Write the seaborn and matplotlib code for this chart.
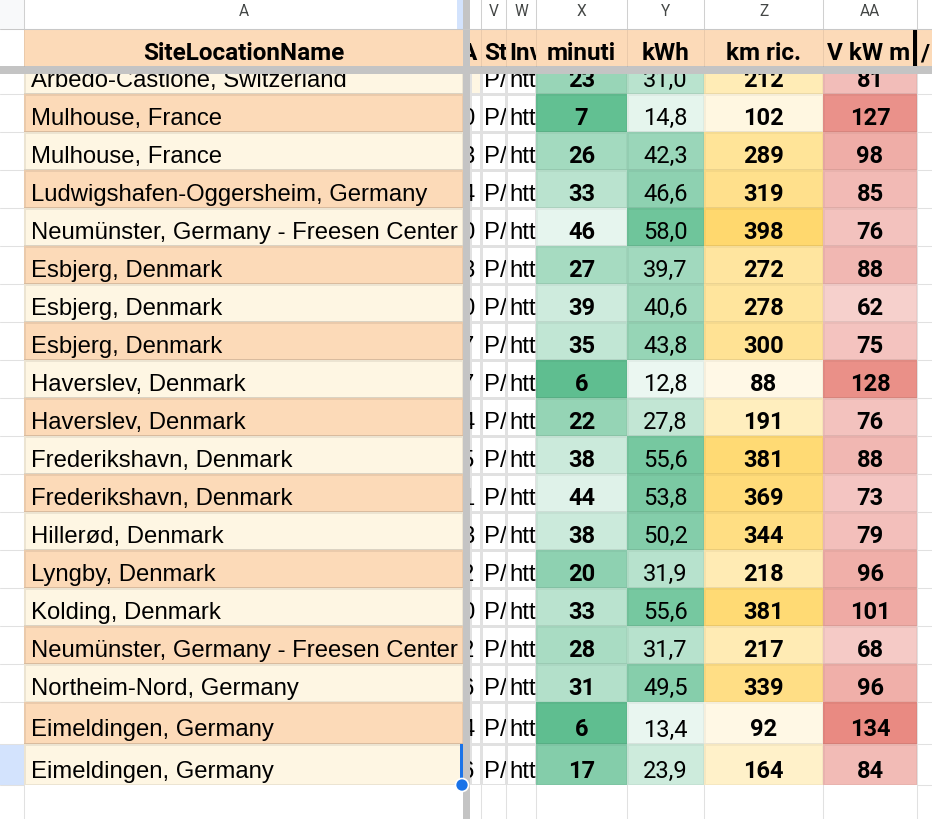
"""
Spreadsheet view of charging sessions, drawn as seaborn heatmap columns.
"""

import matplotlib
matplotlib.use("Agg")
import matplotlib.pyplot as plt
import seaborn as sns
import numpy as np
from matplotlib.colors import LinearSegmentedColormap, ListedColormap
from matplotlib.patches import Rectangle, Circle


# Data
site_names = [
    "Arbedo-Castione, Switzerland",
    "Mulhouse, France",
    "Mulhouse, France",
    "Ludwigshafen-Oggersheim, Germany",
    "Neumünster, Germany - Freesen Center",
    "Esbjerg, Denmark",
    "Esbjerg, Denmark",
    "Esbjerg, Denmark",
    "Haverslev, Denmark",
    "Haverslev, Denmark",
    "Frederikshavn, Denmark",
    "Frederikshavn, Denmark",
    "Hillerød, Denmark",
    "Lyngby, Denmark",
    "Kolding, Denmark",
    "Neumünster, Germany - Freesen Center",
    "Northeim-Nord, Germany",
    "Eimeldingen, Germany",
    "Eimeldingen, Germany",
]
minuti = [23, 7, 26, 33, 46, 27, 39, 35, 6, 22, 38, 44, 38, 20, 33, 28, 31, 6, 17]
kwh = [31.0, 14.8, 42.3, 46.6, 58.0, 39.7, 40.6, 43.8, 12.8, 27.8,
       55.6, 53.8, 50.2, 31.9, 55.6, 31.7, 49.5, 13.4, 23.9]
km_ric = [212, 102, 289, 319, 398, 272, 278, 300, 88, 191,
          381, 369, 344, 218, 381, 217, 339, 92, 164]
v_kw = [81, 127, 98, 85, 76, 88, 62, 75, 128, 76, 88, 73, 79, 96, 101, 68, 96, 134, 84]
# clipped leftovers of the hidden columns
hidden_digits = ["", "0", "3", "4", "0", "3", "0", "7", "7", "4",
                 "5", "1", "3", "2", "0", "2", "6", "4", "6"]
stato = ["P/"] * len(site_names)
invoice = ["htt"] * len(site_names)

col_letters = ["A", "V", "W", "X", "Y", "Z", "AA"]
header_labels = ["SiteLocationName", "A", "St", "Inv", "minuti", "kWh", "km ric.", "V kW m"]


# Layout (pixels)
W, H = 932, 820
GUTTER = 24
COLS = {
    "A": (24, 463), "A2": (470, 481), "V": (481, 506), "W": (506, 536),
    "X": (536, 627), "Y": (627, 704), "Z": (704, 823), "AA": (823, 917),
}
BLOCKS = [(0, 17, 57, 703), (17, 19, 703, 786)]
HEADER = (30, 67)
BAR_H = (67, 75)
BAR_V = (463, 470)

ORANGE = "#FCDAB8"
CREAM = "#FEF6E3"
GRID = "#E1E1E1"
BAR = "#C4C4C4"

sns.set_theme(style="white")
plt.rcParams["font.family"] = ["Liberation Sans", "DejaVu Sans"]
NAME_FONT = ["Liberation Sans", "DejaVu Sans"]
NUM_FONT = ["Roboto", "DejaVu Sans"]


def px_axes(fig, x0, y0, x1, y1, z=1):
    return fig.add_axes([x0 / W, 1 - y1 / H, (x1 - x0) / W, (y1 - y0) / H], zorder=z)


def draw_column(fig, key, values, cmap, vmin, vmax, labels, linecolor,
                ha="center", pad=0, size=17, weight="normal", family=NUM_FONT):
    """One spreadsheet column as a single-column heatmap per row block."""
    x0, x1 = COLS[key]
    for i0, i1, y0, y1 in BLOCKS:
        ax = px_axes(fig, x0, y0, x1, y1, z=2)
        data = np.asarray(values[i0:i1], dtype=float).reshape(-1, 1)
        sns.heatmap(data, ax=ax, cmap=cmap, vmin=vmin, vmax=vmax, cbar=False,
                    linewidths=0.75, linecolor=linecolor,
                    xticklabels=False, yticklabels=False)
        row_px = (y1 - y0) / (i1 - i0)
        frac = (row_px - 8) / row_px  # bottom aligned text
        tx = 0.5 if ha == "center" else pad / (x1 - x0)
        for j, lab in enumerate(labels[i0:i1]):
            ax.text(tx, j + frac, lab, ha=ha, va="baseline", fontsize=size,
                    fontweight=weight, family=family, color="black", clip_on=True)
        ax.set_axis_off()


def clipped_text(ax, x, y, s, box, **kw):
    t = ax.text(x, y, s, clip_on=True, **kw)
    bx0, by0, bx1, by1 = box
    t.set_clip_path(Rectangle((bx0, by0), bx1 - bx0, by1 - by0, transform=ax.transData))
    return t


fig = plt.figure(figsize=(W / 100, H / 100), dpi=100)

# Background grid
bg = fig.add_axes([0, 0, 1, 1], zorder=0)
bg.set_xlim(0, W)
bg.set_ylim(H, 0)
bg.set_axis_off()
bg.add_patch(Rectangle((0, 745), GUTTER, 41, color="#D3E3FD", lw=0))
bounds = [57 + 38 * k for k in range(18)] + [745, 786]
for yb in bounds:
    bg.plot([0, GUTTER], [yb, yb], color=GRID, lw=0.75)
    bg.plot([917, W], [yb, yb], color=GRID, lw=0.75)
for xb in [GUTTER, 481, 506, 536, 627, 704, 823, 917]:
    bg.plot([xb, xb], [0, H], color=GRID, lw=0.75)

# Columns
band = [k % 2 for k in range(len(site_names))]
draw_column(fig, "A", band, ListedColormap([CREAM, ORANGE]), 0, 1, site_names,
            (0, 0, 0, 0.07), ha="left", pad=7, size=17.2, family=NAME_FONT)
draw_column(fig, "A2", [1] + [0] * (len(site_names) - 1), ListedColormap(["white", CREAM]),
            0, 1, hidden_digits, GRID, ha="right", pad=4.5, size=17.2, family=NAME_FONT)
draw_column(fig, "V", [0] * len(site_names), ListedColormap(["white"]), 0, 1, stato,
            GRID, ha="left", pad=3, size=17.2, family=NAME_FONT)
draw_column(fig, "W", [0] * len(site_names), ListedColormap(["white"]), 0, 1, invoice,
            GRID, ha="left", pad=3, size=17.2, family=NAME_FONT)

green = LinearSegmentedColormap.from_list("green", ["#FFFFFF", "#57BB8A"])
yellow = LinearSegmentedColormap.from_list("yellow", ["#FFFFFF", "#FFD666"])
red = LinearSegmentedColormap.from_list("red", ["#FFFFFF", "#E67C73"])

draw_column(fig, "X", minuti, green.reversed(), 3.5, 53.5, [str(v) for v in minuti],
            (0, 0, 0, 0.04), weight="bold")
draw_column(fig, "Y", kwh, green, 5.4, 67, [f"{v:.1f}".replace(".", ",") for v in kwh],
            (0, 0, 0, 0.04))
draw_column(fig, "Z", km_ric, yellow, 25, 418, [str(v) for v in km_ric],
            (0, 0, 0, 0.04), weight="bold")
draw_column(fig, "AA", v_kw, red, 13, 149, [str(v) for v in v_kw],
            (0, 0, 0, 0.04), weight="bold")

# Frozen header, column letters and freeze bars
top = fig.add_axes([0, 0, 1, 1], zorder=10)
top.set_xlim(0, W)
top.set_ylim(H, 0)
top.set_axis_off()
top.patch.set_visible(False)

top.add_patch(Rectangle((0, 0), W, HEADER[0], color="white", lw=0))
top.add_patch(Rectangle((0, 0), GUTTER, HEADER[0], color="#F8F9FA", lw=0))
top.add_patch(Rectangle((457, 0), 6, HEADER[0], color="#D3E3FD", lw=0))
top.add_patch(Rectangle((0, HEADER[0]), GUTTER, HEADER[1] - HEADER[0], color="white", lw=0))
top.add_patch(Rectangle((GUTTER, HEADER[0]), W - GUTTER, HEADER[1] - HEADER[0], color=ORANGE, lw=0))
for xb in [GUTTER, 481, 506, 536, 627, 704, 823, 917]:
    top.plot([xb, xb], [0, HEADER[0]], color="#D0D0D0", lw=0.75)
    top.plot([xb, xb], [HEADER[0], HEADER[1]], color=(0, 0, 0, 0.07), lw=0.75)
top.plot([0, W], [HEADER[0], HEADER[0]], color="#C8C8C8", lw=0.75)

letter_cols = ["A", "V", "W", "X", "Y", "Z", "AA"]
for letter, key in zip(col_letters, letter_cols):
    x0, x1 = COLS[key]
    top.text((x0 + x1) / 2, 15.5, letter, ha="center", va="baseline",
             fontsize=11.2, color="#444746", family=NUM_FONT)

header_keys = ["A", "A2", "V", "W", "X", "Y", "Z", "AA"]
base = HEADER[1] - 7
for lab, key in zip(header_labels, header_keys):
    x0, x1 = COLS[key]
    box = (x0, HEADER[0], x1, HEADER[1])
    kw = dict(va="baseline", fontsize=17.5, fontweight="bold", family=NUM_FONT, color="black")
    if key == "A2":
        clipped_text(top, x1 - 4, base, lab, box, ha="right", **kw)
    elif key in ("V", "W"):
        clipped_text(top, x0 + 3, base, lab, box, ha="left", **kw)
    elif key == "AA":
        clipped_text(top, x0 + 4, base, lab, (x0, HEADER[0], 913, HEADER[1]), ha="left", **kw)
    else:
        clipped_text(top, (x0 + x1) / 2, base, lab, box, ha="center", **kw)
clipped_text(top, 920, base, "/", (917, HEADER[0], W, HEADER[1]), ha="left",
             va="baseline", fontsize=17.5, fontweight="bold", family=NUM_FONT, color="black")

# cursor mark in the header
top.add_patch(Rectangle((913, HEADER[0]), 3.5, HEADER[1] - HEADER[0], color="black", lw=0))

top.add_patch(Rectangle((0, BAR_H[0]), W, BAR_H[1] - BAR_H[0], color=BAR, lw=0))
top.add_patch(Rectangle((BAR_V[0], 0), BAR_V[1] - BAR_V[0], H, color=BAR, lw=0))

# selection edge and handle
top.add_patch(Rectangle((459.5, 745), 3.5, 41, color="#1A73E8", lw=0))
top.add_patch(Circle((462, 786), 6.5, facecolor="#1A73E8", edgecolor="white", lw=1.2))

plt.savefig("out.png", dpi=100)
plt.close()
